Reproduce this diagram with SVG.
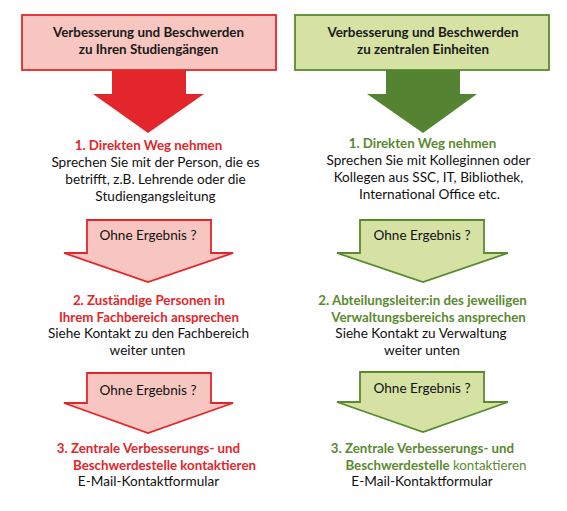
<svg xmlns="http://www.w3.org/2000/svg" width="567" height="511" viewBox="0 0 567 511">
<style>
text{font-family:Lato,"Open Sans","Liberation Sans",sans-serif;text-anchor:middle;font-size:13.6px}
.b{font-weight:bold}
.hd{font-weight:bold;fill:#1a1a1a;font-size:13.4px}
.tx{fill:#111}
.r{fill:#e3262b;font-weight:bold;font-size:13.3px}
.g{fill:#5a8a2f;font-weight:bold;font-size:13.3px}
.rbox{fill:#f8c6c0;stroke:#e3262b;stroke-width:1.8}
.gbox{fill:#d6e2a4;stroke:#5a8a2f;stroke-width:1.8}
.rbig{fill:#e3262b}
.gbig{fill:#548432}
</style>
<g id="left-header">
<rect class="rbox" x="22" y="15" width="254" height="55"/>
<text class="hd" x="148.5" y="37">Verbesserung und Beschwerden</text>
<text class="hd" x="148.5" y="54">zu Ihren Studiengängen</text>
</g>
<g id="right-header">
<rect class="gbox" x="295" y="15" width="254" height="55"/>
<text class="hd" x="423" y="37">Verbesserung und Beschwerden</text>
<text class="hd" x="423" y="54">zu zentralen Einheiten</text>
</g>
<g id="connectors">
<polygon class="rbig" points="112,70 186,70 186,94 204,94 148,133 93,94 112,94"/>
<polygon class="gbig" points="386,70 460,70 460,94 477,94 423,133 367,94 386,94"/>
</g>
<g id="left-step1">
<text class="r" x="148.5" y="150">1. Direkten Weg nehmen</text>
<text class="tx" x="155.5" y="167">Sprechen Sie mit der Person, die es</text>
<text class="tx" x="155.5" y="184">betrifft, z.B. Lehrende oder die</text>
<text class="tx" x="155.5" y="201">Studiengangsleitung</text>
</g>
<g id="left-ohne1">
<polygon class="rbox" points="87,220 211,220 211,253 233,253 148,282 64,253 87,253"/>
<text class="tx" x="148" y="240">Ohne Ergebnis ?</text>
</g>
<g id="left-step2">
<text class="r" x="149" y="305">2. Zuständige Personen in</text>
<text class="r" x="149" y="322">Ihrem Fachbereich ansprechen</text>
<text class="tx" x="148.5" y="338">Siehe Kontakt zu den Fachbereich</text>
<text class="tx" x="147.5" y="355">weiter unten</text>
</g>
<g id="left-ohne2">
<polygon class="rbox" points="87,373 211,373 211,403 233,403 148,433 64,403 87,403"/>
<text class="tx" x="148" y="395">Ohne Ergebnis ?</text>
</g>
<g id="left-step3">
<text class="r" x="148.5" y="453">3. Zentrale Verbesserungs- und</text>
<text class="r" x="164.5" y="470">Beschwerdestelle kontaktieren</text>
<text class="tx" x="148.5" y="486">E-Mail-Kontaktformular</text>
</g>
<g id="right-step1">
<text class="g" x="422.5" y="148">1. Direkten Weg nehmen</text>
<text class="tx" x="428.5" y="165">Sprechen Sie mit Kolleginnen oder</text>
<text class="tx" x="428.5" y="182">Kollegen aus SSC, IT, Bibliothek,</text>
<text class="tx" x="429.5" y="199">International Office etc.</text>
</g>
<g id="right-ohne1">
<polygon class="gbox" points="360,220 484,220 484,253 508,253 423,282 337,253 360,253"/>
<text class="tx" x="422" y="240">Ohne Ergebnis ?</text>
</g>
<g id="right-step2">
<text class="g" x="422.5" y="305">2. Abteilungsleiter:in des jeweiligen</text>
<text class="g" x="428.5" y="322">Verwaltungsbereichs ansprechen</text>
<text class="tx" x="421" y="338">Siehe Kontakt zu Verwaltung</text>
<text class="tx" x="422" y="355">weiter unten</text>
</g>
<g id="right-ohne2">
<polygon class="gbox" points="360,372 484,372 484,402 508,402 423,432 337,402 360,402"/>
<text class="tx" x="422" y="393">Ohne Ergebnis ?</text>
</g>
<g id="right-step3">
<text class="g" x="422.5" y="453">3. Zentrale Verbesserungs- und</text>
<text x="436" y="470" style="fill:#5a8a2f;font-size:13.3px"><tspan class="b">Beschwerdestelle</tspan> kontaktieren</text>
<text class="tx" x="422" y="486">E-Mail-Kontaktformular</text>
</g>
</svg>
